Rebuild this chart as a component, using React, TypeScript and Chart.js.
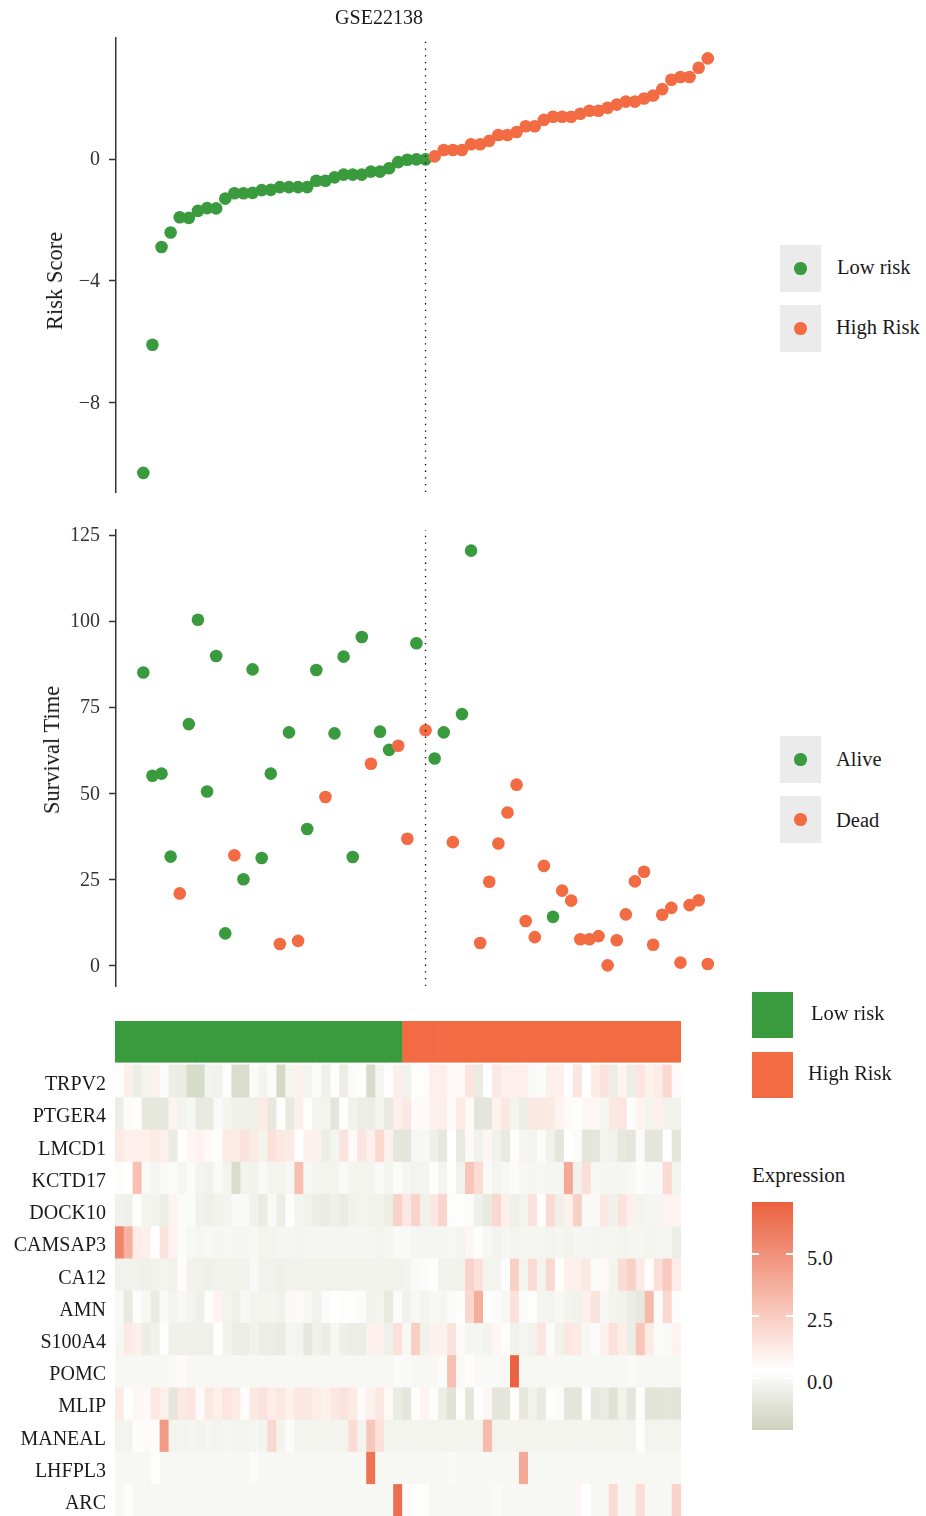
import React, { useEffect, useRef } from "react";
import { Chart, registerables } from "chart.js";

Chart.register(...registerables);

const SERIF = "'Liberation Serif', 'Times New Roman', serif";
const GREEN = "#3A9A3E";
const ORANGE = "#F26B43";
const TEXT = "#1a1a1a";

// ---------------- data ----------------
const datasetTitle = "GSE22138";

const riskScores = [
  -10.31, -6.1, -2.89, -2.41, -1.91, -1.93, -1.7, -1.61, -1.62, -1.3,
  -1.12, -1.12, -1.11, -1.02, -1.01, -0.92, -0.92, -0.92, -0.92, -0.71,
  -0.71, -0.6, -0.51, -0.51, -0.51, -0.41, -0.41, -0.3, -0.1, -0.02,
  -0.01, -0.01,
  0.09, 0.3, 0.3, 0.3, 0.49, 0.49, 0.6, 0.79, 0.79, 0.89,
  1.08, 1.08, 1.29, 1.39, 1.39, 1.39, 1.49, 1.59, 1.59, 1.69,
  1.79, 1.89, 1.89, 1.99, 2.09, 2.3, 2.61, 2.7, 2.7, 3.0, 3.31,
];
const lowRiskCount = 32;

const survivalTimes = [
  85.1, 55.1, 55.7, 31.6, 20.9, 70.1, 100.4, 50.5, 89.9, 9.3,
  32.0, 25.0, 86.0, 31.2, 55.7, 6.2, 67.7, 7.1, 39.6, 85.8,
  48.9, 67.4, 89.7, 31.5, 95.4, 58.6, 67.9, 62.6, 63.8, 36.8,
  93.6, 68.3, 60.1, 67.7, 35.8, 73.0, 120.5, 6.5, 24.3, 35.4,
  44.4, 52.5, 12.9, 8.2, 28.9, 14.1, 21.7, 18.8, 7.6, 7.6,
  8.5, 0.0, 7.3, 14.8, 24.4, 27.2, 6.0, 14.7, 16.7, 0.8,
  17.5, 18.9, 0.4,
];
// 1 = Dead, 0 = Alive
const deadStatus = [
  0, 0, 0, 0, 1, 0, 0, 0, 0, 0,
  1, 0, 0, 0, 0, 1, 0, 1, 0, 0,
  1, 0, 0, 0, 0, 1, 0, 0, 1, 1,
  0, 1, 0, 0, 1, 0, 0, 1, 1, 1,
  1, 1, 1, 1, 1, 0, 1, 1, 1, 1,
  1, 1, 1, 1, 1, 1, 1, 1, 1, 1,
  1, 1, 1,
];

const genes = ["TRPV2", "PTGER4", "LMCD1", "KCTD17", "DOCK10", "CAMSAP3", "CA12", "AMN", "S100A4", "POMC", "MLIP", "MANEAL", "LHFPL3", "ARC"];

const exprTRPV2 = [0.2, 1.0, -0.6, -0.3, 0.9, 0.1, -0.6, -0.7, -1.6, -1.6, -0.3, -0.4, 0.2, -1.5, -1.5, 0.1, -0.3, 0.5, -1.7, -0.2, 0.9, -0.3, 0.1, -0.5, 0.4, -0.6, 0.1, 0.2, -1.6, -0.2, 0.2, 1.0, -0.4, 0.2, 0.2, 1.0, 1.0, 0.6, 0.6, 1.4, -0.7, 0.2, 1.3, 1.0, 1.0, 1.0, 0.0, 0.1, 1.0, 1.0, 0.2, 1.4, 0.3, 1.1, 1.5, -0.6, 0.8, -0.6, 1.4, 0.9, 1.1, 2.0, 0.5];
const exprPTGER4 = [-0.6, 0.1, 0.4, -0.9, -0.9, -0.9, 0.8, -0.3, -0.1, -0.8, -0.8, 0.0, -0.3, -0.5, -0.5, -0.5, 1.2, -0.9, 0.4, -0.8, 1.0, 0.2, -0.3, -0.3, -1.0, 0.4, -0.4, -0.6, -0.6, -0.3, -0.8, 1.0, 1.3, 0.5, 0.6, 0.9, 1.0, 0.5, 1.2, 0.6, -1.0, -1.0, 0.8, 1.3, -0.3, -0.6, 1.3, 1.3, 1.2, 0.8, 0.5, 0.2, 0.7, 0.7, -0.2, 1.3, 1.4, 0.2, 0.8, -0.3, 1.0, -0.4, -0.4];
const exprLMCD1 = [1.2, 1.0, 1.0, 1.0, 1.2, 1.0, -0.7, 0.3, 0.7, 0.8, 0.5, 0.2, 1.2, 1.2, 1.5, 1.2, -0.3, 1.6, 1.3, 1.2, 0.3, 0.9, 0.9, -0.6, -0.3, 1.5, 0.6, 1.4, 1.0, 2.0, 0.9, -1.0, -1.0, -0.1, -0.1, -0.5, -0.9, 0.3, -0.8, 0.6, -0.4, 0.7, -0.4, -0.8, 0.2, -0.2, -0.3, 0.1, -0.4, -1.0, 0.3, 0.1, -1.0, -1.0, -0.3, -0.4, -0.9, -1.0, 0.5, -1.0, -1.0, 0.3, -1.0];
const exprKCTD17 = [0.2, 0.3, 3.0, 0.0, -0.2, 0.0, 0.1, -0.2, 0.1, -0.3, -0.4, 0.0, -0.3, -1.5, -0.3, -0.4, 0.0, -0.3, -0.3, -0.1, 3.0, -0.1, -0.3, -0.3, -0.3, 0.0, -0.3, -0.3, -0.3, 0.0, -0.3, 0.1, -0.2, -0.3, -0.3, 0.4, -0.3, 0.2, -0.4, 2.8, 1.8, 0.0, -0.3, -0.1, 0.5, -0.1, -0.2, -0.1, -0.2, -0.2, 4.0, -0.4, 1.7, -0.1, -0.2, -0.2, -0.2, -0.1, 0.2, 0.0, 0.0, 1.9, -0.3];
const exprDOCK10 = [-0.4, -0.5, 0.2, -0.3, -0.3, -0.6, 0.8, 0.1, 0.1, -0.4, -0.5, -0.4, -0.3, 0.0, 0.0, -0.4, -0.7, 0.0, -0.6, 0.4, -0.3, -0.4, -0.6, -0.7, -0.5, -0.7, -0.4, -0.3, -0.4, -0.4, -0.6, 2.2, 1.3, 2.2, -0.4, 1.3, 2.1, 0.2, 0.2, 0.1, -0.5, -0.8, 2.0, 1.0, -0.5, -0.3, 1.5, 0.2, 1.9, -0.5, 0.9, 2.3, 0.0, 0.0, 1.3, -0.4, 1.5, 1.0, -0.3, -0.2, -0.2, 0.8, 0.8];
const exprCAMSAP3 = [5.5, 3.6, 1.1, 1.0, 0.3, 1.5, 0.8, 0.1, -0.1, -0.2, -0.1, -0.2, -0.1, -0.2, -0.2, -0.1, -0.3, -0.3, -0.2, -0.2, -0.3, -0.2, -0.2, -0.2, -0.2, -0.2, -0.2, -0.2, -0.2, -0.3, -0.2, 0.0, 0.0, -0.2, -0.2, -0.2, -0.2, -0.1, -0.3, 0.7, 0.2, -0.1, -0.3, -0.2, -0.3, -0.2, -0.2, -0.2, -0.3, -0.2, -0.3, -0.2, -0.2, -0.3, -0.2, -0.2, -0.3, -0.2, -0.2, -0.3, -0.2, -0.2, -0.6];
const exprCA12 = [-0.4, -0.4, -0.4, -0.5, -0.4, -0.3, -0.4, 0.4, -0.4, -0.4, -0.5, -0.4, -0.4, -0.4, -0.4, 0.0, -0.4, -0.4, -0.5, -0.4, -0.4, -0.4, -0.4, -0.4, -0.4, -0.4, -0.4, -0.4, -0.4, -0.4, -0.4, -0.4, -0.3, 0.0, 0.1, 0.2, -0.4, -0.4, -0.4, 2.2, 1.6, -0.3, -0.3, 0.1, 2.3, -0.3, 1.8, -0.3, 2.0, 0.2, 1.0, 1.0, 1.3, 0.1, 0.6, -0.3, 1.8, 2.3, 1.2, 0.4, 1.7, 2.6, 1.1];
const exprAMN = [0.0, -0.8, 0.4, -0.1, -0.7, 0.0, -0.3, -0.1, -0.3, -0.5, 0.2, 0.8, -0.3, -0.5, -0.1, -0.3, -0.3, -0.3, -0.4, 0.0, 0.6, -0.1, -0.4, 0.1, 0.3, 0.4, 0.4, 0.1, -0.4, -0.3, -0.8, 0.1, -0.4, -0.1, -0.3, -0.1, -0.2, 0.1, 0.4, 2.0, 3.8, 0.2, 0.1, -0.1, 1.6, 0.1, 0.2, -0.3, -0.3, -0.1, -0.3, -0.4, 1.0, 1.5, -0.1, -0.3, -0.4, -0.6, -0.9, 3.3, 0.1, 2.0, 0.4];
const exprS100A4 = [-0.1, 1.2, 1.0, -0.6, -0.4, 0.2, -0.5, -0.5, -0.5, -0.5, -0.5, 0.3, -0.3, -0.6, -0.6, -0.4, -0.6, -0.6, -0.7, -0.2, -0.3, -0.9, -0.4, -0.6, -0.1, -0.5, -0.6, -0.6, 0.9, 1.0, -0.5, 1.6, -0.1, 2.4, -0.4, 0.9, 0.9, 1.5, 0.5, -0.2, -0.2, -0.3, 0.7, 0.2, -0.4, -0.2, -0.4, 1.4, 0.1, -0.4, 1.3, 1.2, -0.1, 0.1, 0.9, 1.6, 1.1, -0.6, 2.8, 1.2, 0.1, 0.0, 0.8];
const exprPOMC = [
  -0.1, -0.1, -0.1, -0.1, -0.1, -0.1, 0.0, 0.5,
  -0.1, -0.1, -0.1, -0.1, -0.1, -0.1, -0.1, -0.1,
  -0.1, -0.1, -0.1, -0.1, -0.1, -0.1, -0.1, -0.1,
  -0.1, -0.1, -0.1, -0.1, -0.1, -0.1, -0.1, 0.1,
  0.0, -0.1, -0.1, -0.1, 0.1, 3.0, 0.0, 0.4,
  0.0, 0.0, 0.0, -0.1, 7.0, -0.1, -0.1, -0.1,
  -0.1, -0.1, -0.1, -0.1, -0.1, -0.1, -0.1, -0.1,
  -0.1, 0.0, -0.1, -0.1, -0.1, -0.1, -0.1,
];
const exprMLIP = [1.2, 0.3, 0.7, 0.6, 1.3, 1.0, -1.0, 1.3, 1.4, 0.5, 1.3, 1.0, 1.4, 1.2, 0.4, 1.3, 1.5, 1.1, 1.3, 0.9, 1.3, 1.3, 1.1, 0.9, 1.3, 1.5, 1.2, 0.5, 0.9, 1.3, 0.6, -0.7, -1.0, 0.4, 0.8, 0.4, -0.6, -1.2, 0.2, -1.0, 0.4, 0.7, -1.0, -1.0, 0.4, -0.9, -0.4, -0.8, 0.2, 0.1, -1.0, -1.0, 0.2, -0.9, -0.7, -1.2, -0.4, -1.0, 0.4, -1.1, -1.1, -1.0, -1.1];
const exprMANEAL = [
  -0.3, -0.3, 0.4, 0.5, 0.2, 4.6, -0.3, -0.3,
  -0.2, -0.3, -0.2, -0.3, -0.2, -0.3, -0.3, -0.2,
  -0.3, 2.0, -0.3, 0.1, -0.3, -0.3, -0.3, -0.3,
  -0.3, -0.3, 1.8, -0.3, 2.7, 1.6, -0.3, -0.3,
  -0.3, -0.3, -0.3, -0.3, -0.3, -0.3, -0.3, -0.3,
  -0.3, 3.2, -0.3, -0.3, -0.3, -0.3, -0.3, -0.3,
  -0.3, -0.3, -0.3, -0.3, -0.3, -0.3, -0.3, -0.3,
  -0.3, -0.3, 0.4, -0.3, -0.3, -0.3, -0.3,
];
const exprLHFPL3 = [
  -0.1, -0.1, -0.1, -0.1, 0.2, -0.1, -0.1, -0.1,
  -0.1, -0.1, -0.1, -0.1, -0.1, -0.1, -0.1, 0.1,
  -0.1, -0.1, -0.1, -0.1, -0.1, -0.1, -0.1, -0.1,
  -0.1, -0.1, -0.1, -0.1, 6.3, -0.1, -0.1, -0.1,
  -0.1, -0.1, -0.1, -0.1, -0.1, 0.0, -0.1, -0.1,
  -0.1, -0.1, -0.1, -0.1, -0.1, 4.0, -0.1, -0.1,
  -0.1, -0.1, -0.1, -0.1, -0.1, -0.1, -0.1, -0.1,
  -0.1, -0.1, -0.1, -0.1, -0.1, -0.1, -0.1,
];
const exprARC = [
  -0.1, 0.2, -0.1, -0.1, -0.1, -0.1, -0.1, -0.1,
  -0.1, -0.1, -0.1, -0.1, -0.1, -0.1, -0.1, -0.1,
  -0.1, -0.1, -0.1, -0.1, -0.1, -0.1, -0.1, -0.1,
  -0.1, -0.1, -0.1, -0.1, -0.1, -0.1, -0.1, 6.5,
  0.1, 0.4, 0.2, -0.1, -0.1, -0.1, -0.1, -0.1,
  -0.1, -0.1, 0.6, -0.1, -0.1, -0.1, -0.1, -0.1,
  -0.1, -0.1, -0.1, 0.7, 0.3, -0.1, -0.1, 1.8,
  -0.1, -0.1, 1.7, -0.1, -0.1, -0.1, 2.2,
];

const expression = [exprTRPV2, exprPTGER4, exprLMCD1, exprKCTD17, exprDOCK10, exprCAMSAP3, exprCA12, exprAMN, exprS100A4, exprPOMC, exprMLIP, exprMANEAL, exprLHFPL3, exprARC];

const riskTicks = [-8, -4, 0];
const survivalTicks = [0, 25, 50, 75, 100, 125];
const colorbarTicks = [5.0, 2.5, 0.0];

// ---------------- scales / colours ----------------
const X_MIN = -2.0;
const X_MAX = 66.1;
const RISK_MIN = -10.94;
const RISK_MAX = 3.98;
const SURV_MIN = -6.0;
const SURV_MAX = 126.5;
const EXPR_MIN = -2.1;
const EXPR_MID = 0.3;
const EXPR_MAX = 7.1;
const LOW_RGB = [205, 209, 188];
const MID_RGB = [255, 255, 255];
const HIGH_RGB = [235, 96, 62];

function exprColor(v: number): string {
  let c: number[];
  if (v <= EXPR_MID) {
    const t = Math.min(1, (EXPR_MID - v) / (EXPR_MID - EXPR_MIN));
    c = MID_RGB.map((m, k) => Math.round(m + (LOW_RGB[k] - m) * t));
  } else {
    const t = Math.min(1, (v - EXPR_MID) / (EXPR_MAX - EXPR_MID));
    c = MID_RGB.map((m, k) => Math.round(m + (HIGH_RGB[k] - m) * t));
  }
  return `rgb(${c[0]},${c[1]},${c[2]})`;
}

function yAxisOpts(min: number, max: number, tickVals: number[]) {
  return {
    type: "linear" as const,
    min,
    max,
    afterFit: (s: any) => {
      s.width = 116;
      s.paddingTop = 0;
      s.paddingBottom = 0;
    },
    afterBuildTicks: (s: any) => {
      s.ticks = tickVals.map((v) => ({ value: v }));
    },
    grid: {
      display: true,
      drawOnChartArea: false,
      drawTicks: true,
      tickLength: 7,
      tickWidth: 1.5,
      tickColor: "#333",
    },
    border: { display: true, color: "#333", width: 1.5 },
    ticks: {
      padding: 9,
      labelOffset: 1,
      color: "#333",
      font: { size: 20, family: SERIF },
      callback: (v: any) => String(v).replace("-", "\u2212"),
    },
  };
}

function cutoffLine(min: number, max: number) {
  return {
    type: "line" as const,
    label: "cutoff",
    data: [
      { x: lowRiskCount, y: min },
      { x: lowRiskCount, y: max },
    ],
    borderColor: "#000",
    borderWidth: 1.3,
    borderDash: [1.3, 5.4],
    pointRadius: 0,
    fill: false,
    order: 0,
  };
}

const pointStyle = (color: string) => ({
  backgroundColor: color,
  pointBackgroundColor: color,
  pointBorderWidth: 0,
  borderWidth: 0,
  pointRadius: 6.3,
  pointHoverRadius: 6.3,
});

function riskConfig(): any {
  const low = riskScores.slice(0, lowRiskCount).map((y, i) => ({ x: i + 1, y }));
  const high = riskScores.slice(lowRiskCount).map((y, i) => ({ x: lowRiskCount + i + 1, y }));
  return {
    type: "scatter",
    data: {
      datasets: [
        cutoffLine(RISK_MIN, RISK_MAX),
        { label: "High Risk", data: high, order: 1, ...pointStyle(ORANGE) },
        { label: "Low risk", data: low, order: 2, ...pointStyle(GREEN) },
      ],
    },
    options: {
      animation: false,
      responsive: false,
      devicePixelRatio: 1,
      events: [],
      layout: { padding: { top: 38, right: 24, bottom: 8, left: 0 } },
      plugins: { legend: { display: false }, tooltip: { enabled: false }, title: { display: false } },
      scales: {
        x: { type: "linear", min: X_MIN, max: X_MAX, display: false },
        y: yAxisOpts(RISK_MIN, RISK_MAX, riskTicks),
      },
    },
  };
}

function survivalConfig(): any {
  const pts = survivalTimes.map((y, i) => ({ x: i + 1, y, dead: deadStatus[i] === 1 }));
  return {
    type: "scatter",
    data: {
      datasets: [
        cutoffLine(SURV_MIN, SURV_MAX),
        { label: "Dead", data: pts.filter((p) => p.dead).map(({ x, y }) => ({ x, y })), order: 1, ...pointStyle(ORANGE) },
        { label: "Alive", data: pts.filter((p) => !p.dead).map(({ x, y }) => ({ x, y })), order: 2, ...pointStyle(GREEN) },
      ],
    },
    options: {
      animation: false,
      responsive: false,
      devicePixelRatio: 1,
      events: [],
      layout: { padding: { top: 30, right: 24, bottom: 14, left: 0 } },
      plugins: { legend: { display: false }, tooltip: { enabled: false } },
      scales: {
        x: { type: "linear", min: X_MIN, max: X_MAX, display: false },
        y: yAxisOpts(SURV_MIN, SURV_MAX, survivalTicks),
      },
    },
  };
}

const ANN_TOP = -1.36;
const ANN_BOTTOM = -0.08;

function heatmapConfig(): any {
  const labels = riskScores.map((_, i) => `S${i + 1}`);
  const barBase = { grouped: false, barPercentage: 1, categoryPercentage: 1, borderWidth: 0, borderSkipped: false };
  const datasets: any[] = [
    {
      label: "Risk group",
      data: labels.map(() => [ANN_TOP, ANN_BOTTOM]),
      backgroundColor: labels.map((_, i) => (i < lowRiskCount ? GREEN : ORANGE)),
      ...barBase,
    },
    ...genes.map((g, r) => ({
      label: g,
      data: expression[r].map(() => [r, r + 1]),
      backgroundColor: expression[r].map(exprColor),
      ...barBase,
    })),
  ];
  return {
    type: "bar",
    data: { labels, datasets },
    options: {
      animation: false,
      responsive: false,
      devicePixelRatio: 1,
      events: [],
      layout: { padding: { top: 0, right: 19, bottom: 0, left: 0 } },
      plugins: { legend: { display: false }, tooltip: { enabled: false } },
      scales: {
        x: { type: "category", display: false, offset: true },
        y: {
          type: "linear",
          reverse: true,
          min: ANN_TOP,
          max: genes.length,
          afterFit: (s: any) => {
            s.width = 115;
            s.paddingTop = 0;
            s.paddingBottom = 0;
          },
          afterBuildTicks: (s: any) => {
            s.ticks = genes.map((_, i) => ({ value: i + 0.5 }));
          },
          grid: { display: false, drawTicks: false },
          border: { display: false },
          ticks: {
            padding: 9,
            labelOffset: 4,
            autoSkip: false,
            color: TEXT,
            font: { size: 20, family: SERIF },
            callback: (_v: any, i: number) => genes[i],
          },
        },
      },
    },
  };
}

function ChartCanvas({ config, left, top, width, height }: any) {
  const ref = useRef<HTMLCanvasElement | null>(null);
  useEffect(() => {
    if (!ref.current) return;
    const chart = new Chart(ref.current, config());
    return () => chart.destroy();
  }, []);
  return (
    <canvas
      ref={ref}
      width={width}
      height={height}
      style={{ position: "absolute", left, top, width, height }}
    />
  );
}

const T = (style: any): any => ({
  position: "absolute",
  fontFamily: SERIF,
  color: TEXT,
  whiteSpace: "nowrap",
  ...style,
});

function LegendLabel({ x, cy, text, size = 20.5 }: any) {
  return <div style={T({ left: x, top: cy - 13, height: 26, lineHeight: "26px", fontSize: size })}>{text}</div>;
}

function DotKey({ x, y, color }: any) {
  return (
    <div style={{ position: "absolute", left: x, top: y, width: 41, height: 47, background: "#ebebeb" }}>
      <div
        style={{
          position: "absolute",
          left: 20.5 - 6.3,
          top: 23.5 - 6.3,
          width: 12.6,
          height: 12.6,
          borderRadius: "50%",
          background: color,
        }}
      />
    </div>
  );
}

function VTitle({ cx, cy, text }: any) {
  return (
    <div
      style={T({
        left: cx,
        top: cy,
        fontSize: 22.5,
        lineHeight: "26px",
        color: TEXT,
        transform: "translate(-50%, -50%) rotate(-90deg)",
      })}
    >
      {text}
    </div>
  );
}

export default function App() {
  useEffect(() => {
    document.body.style.margin = "0";
    document.body.style.overflow = "hidden";
  }, []);

  const cbTop = 1201.7;
  const cbHeight = 228.3;
  const cbY = (v: number) => cbTop + ((EXPR_MAX - v) / (EXPR_MAX - EXPR_MIN)) * cbHeight;
  const gradStops = [EXPR_MAX, 5, 2.5, 1, EXPR_MID, -1, EXPR_MIN]
    .map((v) => `${exprColor(v)} ${(((EXPR_MAX - v) / (EXPR_MAX - EXPR_MIN)) * 100).toFixed(2)}%`)
    .join(", ");

  return (
    <div
      style={{
        position: "absolute",
        left: 0,
        top: 0,
        width: 926,
        height: 1516,
        background: "#fff",
        overflow: "hidden",
      }}
    >
      <ChartCanvas config={riskConfig} left={0} top={0} width={760} height={500} />
      <ChartCanvas config={survivalConfig} left={0} top={500} width={760} height={500} />
      <ChartCanvas config={heatmapConfig} left={0} top={1021} width={700} height={495} />

      <div style={T({ left: 279, top: 5, width: 200, textAlign: "center", fontSize: 20, lineHeight: "24px" })}>
        {datasetTitle}
      </div>
      <VTitle cx={55} cy={281} text="Risk Score" />
      <VTitle cx={52} cy={750} text="Survival Time" />

      <DotKey x={780} y={245} color={GREEN} />
      <DotKey x={780} y={305} color={ORANGE} />
      <LegendLabel x={837} cy={267} text="Low risk" />
      <LegendLabel x={836} cy={327} text="High Risk" />

      <DotKey x={780} y={736} color={GREEN} />
      <DotKey x={780} y={796} color={ORANGE} />
      <LegendLabel x={836} cy={759} text="Alive" />
      <LegendLabel x={836} cy={820} text="Dead" />

      <div style={{ position: "absolute", left: 752, top: 992, width: 41, height: 46, background: GREEN }} />
      <div style={{ position: "absolute", left: 752, top: 1052, width: 41, height: 46, background: ORANGE }} />
      <LegendLabel x={811} cy={1013} text="Low risk" />
      <LegendLabel x={808} cy={1073} text="High Risk" />

      <LegendLabel x={752} cy={1175} text="Expression" size={21} />
      <div
        style={{
          position: "absolute",
          left: 752,
          top: cbTop,
          width: 41,
          height: cbHeight,
          background: `linear-gradient(to bottom, ${gradStops})`,
        }}
      />
      {colorbarTicks.map((v) => (
        <React.Fragment key={v}>
          <div style={{ position: "absolute", left: 752, top: cbY(v) - 0.75, width: 7, height: 1.5, background: "#fff" }} />
          <div style={{ position: "absolute", left: 786, top: cbY(v) - 0.75, width: 7, height: 1.5, background: "#fff" }} />
          <LegendLabel x={807} cy={cbY(v) + 4} text={v.toFixed(1)} />
        </React.Fragment>
      ))}
    </div>
  );
}
